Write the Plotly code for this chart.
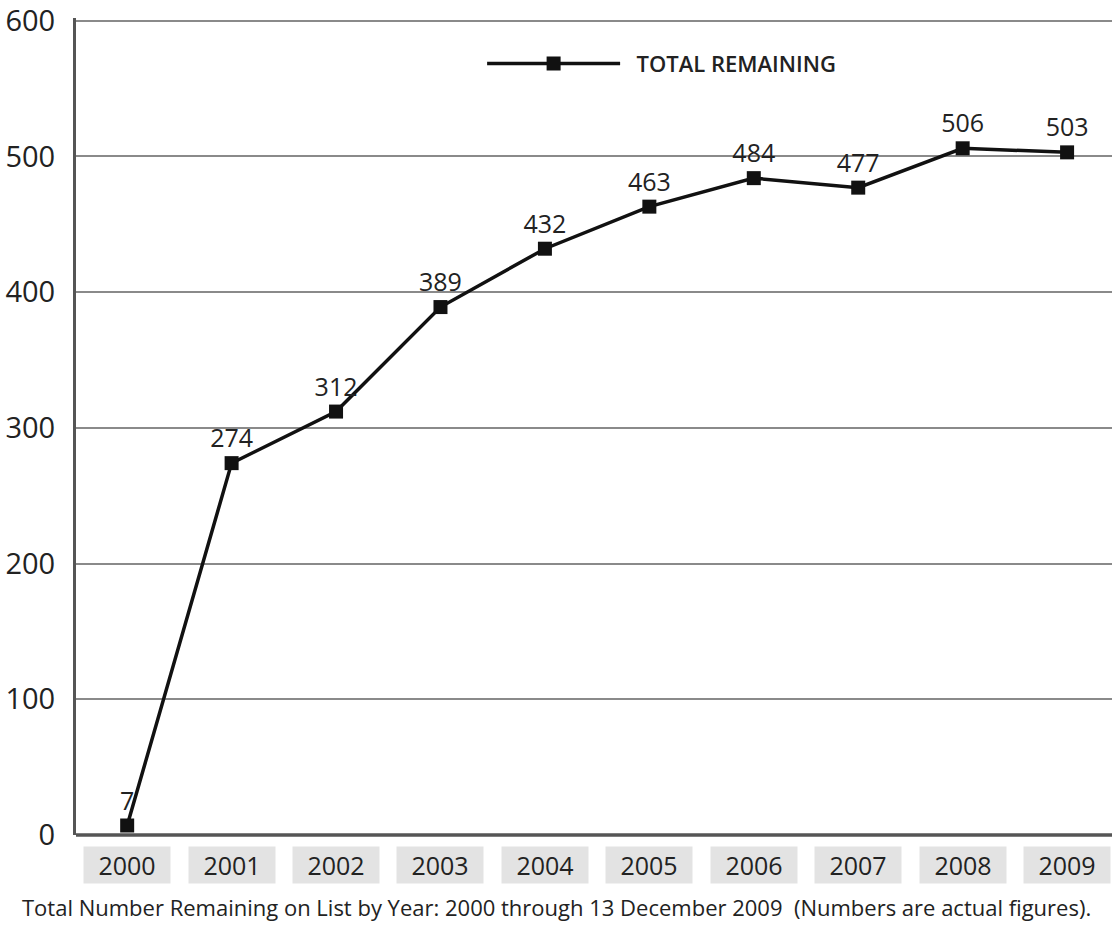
import plotly.graph_objects as go

years = ["2000", "2001", "2002", "2003", "2004", "2005", "2006", "2007", "2008", "2009"]
total_remaining = [7, 274, 312, 389, 432, 463, 484, 477, 506, 503]
y_ticks = [0, 100, 200, 300, 400, 500, 600]
series_name = "TOTAL REMAINING"
caption = ("Total Number Remaining on List by Year: 2000 through 13 December 2009"
           "  (Numbers are actual figures).")

FONT = "Open Sans, sans-serif"
x_idx = list(range(len(years)))

fig = go.Figure()
fig.add_trace(go.Scatter(
    x=x_idx,
    y=total_remaining,
    mode="lines+markers+text",
    name="\u00a0\u00a0" + series_name,
    line=dict(color="#111111", width=3.5),
    marker=dict(symbol="square", size=14, color="#111111"),
    text=[str(v) for v in total_remaining],
    textposition="top center",
    textfont=dict(family=FONT, size=25, color="#222222"),
    cliponaxis=False,
))

annotations = []
# grey boxed year labels under the axis
for i, yr in enumerate(years):
    annotations.append(dict(
        x=i, xref="x", y=0, yref="paper",
        yanchor="top", yshift=-11,
        text=yr, showarrow=False,
        width=86, height=36, borderpad=0,
        bgcolor="#e3e3e3",
        font=dict(family=FONT, size=25, color="#222222"),
    ))
# caption
annotations.append(dict(
    x=(556 - 76) / 1036, xref="paper", y=0, yref="paper",
    yanchor="middle", yshift=-72,
    text=caption, showarrow=False,
    font=dict(family=FONT, size=22, color="#222222"),
))

fig.update_layout(
    width=1112, height=930,
    margin=dict(l=76, r=0, t=16, b=95),
    paper_bgcolor="white", plot_bgcolor="white",
    showlegend=True,
    legend=dict(
        x=0.392, y=0.944, xanchor="left", yanchor="middle",
        bgcolor="rgba(0,0,0,0)",
        itemwidth=133,
        font=dict(family=FONT, size=22, color="#222222", weight=600),
    ),
    xaxis=dict(
        range=[-0.49, 9.43],
        showticklabels=False, showgrid=False, zeroline=False,
        showline=False,
    ),
    yaxis=dict(
        range=[0, 602],
        tickvals=y_ticks,
        tickfont=dict(family=FONT, size=29, color="#222222"),
        ticklabelstandoff=12,
        ticklabeloverflow="allow",
        showgrid=True, gridcolor="#8a8a8a", gridwidth=2,
        zeroline=False,
        showline=True, linecolor="#555555", linewidth=3,
    ),
    annotations=annotations,
)
# bottom axis line
fig.add_shape(type="line", xref="paper", yref="paper", x0=0, x1=1, y0=0, y1=0,
              line=dict(color="#555555", width=3.5), layer="above")

fig.write_html("out.html")
